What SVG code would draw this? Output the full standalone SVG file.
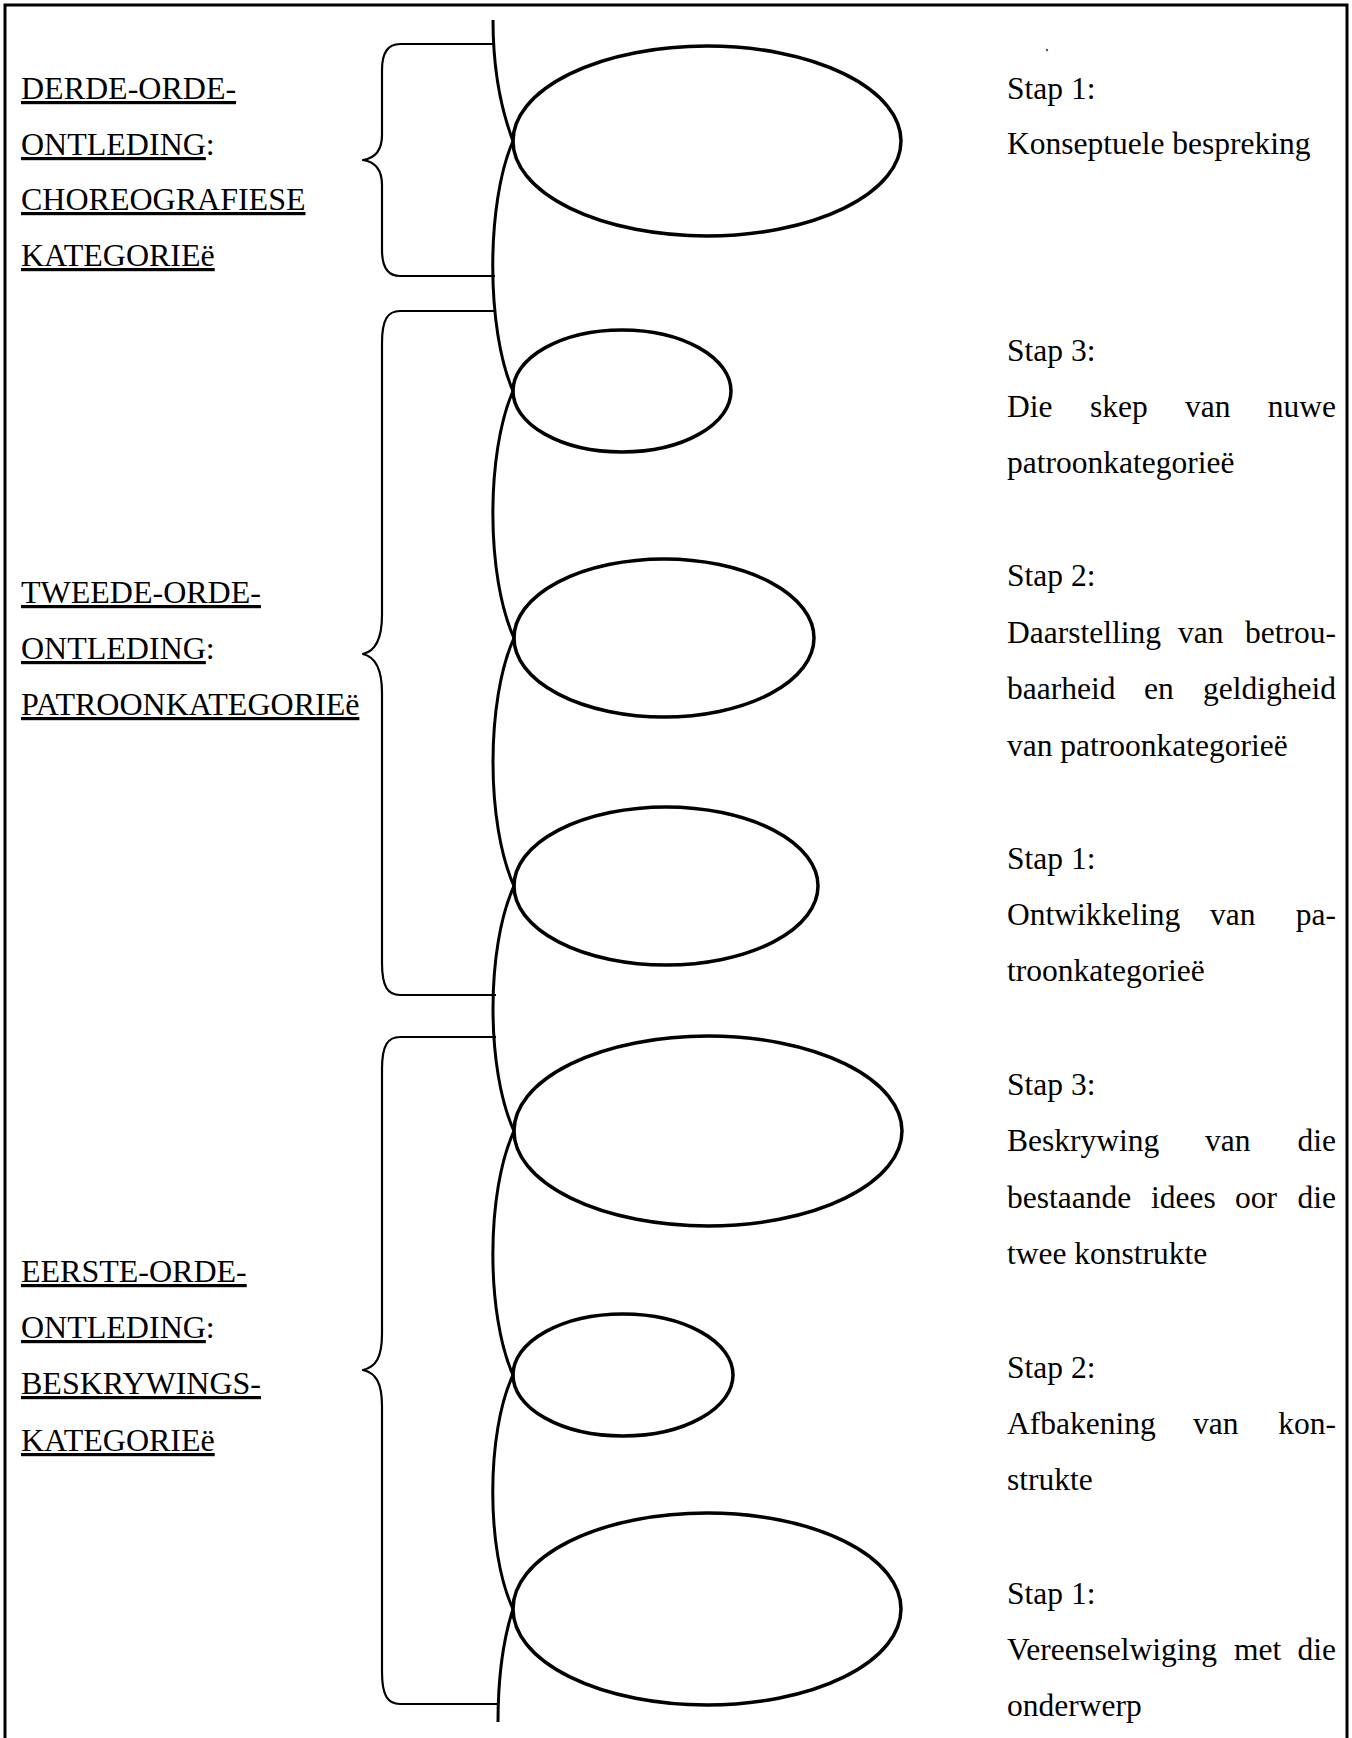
<svg xmlns="http://www.w3.org/2000/svg" width="1352" height="1738" viewBox="0 0 1352 1738">
<defs>
<style>
.frame{fill:none;stroke:#000;stroke-width:3}
.spine{fill:none;stroke:#000;stroke-width:3}
.brace{fill:none;stroke:#000;stroke-width:2.2;stroke-linejoin:round}
.node ellipse{fill:none;stroke:#000;stroke-width:3.5}
text{font-family:"Liberation Serif","Times New Roman",serif;font-size:31.5px;fill:#000}
.lbl{font-size:32px}
.u{text-decoration:underline}
</style>
</defs>
<rect width="1352" height="1738" fill="#fff"/>
<path class="frame" d="M5,1738 V5 H1347 V1738"/>
<circle cx="1047" cy="50" r="1.2" fill="#555"/>

<g id="connectors">
<path id="spine" class="spine" d="M493,20 C493,75 502,112 513,141 C486,203 486,329 513,391 C486,453 486,576 514,638 C486,700 486,824 514,886 C486,947 486,1070 514,1131 C486,1192 486,1314 513,1375 C486,1433 486,1551 513,1609 C503,1640 498,1680 498,1722"/>
<path id="brace-derde" class="brace" d="M495,44 H400 C388,44 382,52 382,70 V135 C382,150 376,158 363,160 C376,162 382,170 382,185 V250 C382,268 388,276 400,276 H495"/>
<path id="brace-tweede" class="brace" d="M496,311 H400 C388,311 382,319 382,343 V615 C382,638 376,651 363,654 C376,657 382,670 382,693 V963 C382,987 388,995 400,995 H496"/>
<path id="brace-eerste" class="brace" d="M496,1037 H400 C388,1037 382,1045 382,1069 V1334 C382,1357 376,1367 363,1370 C376,1373 382,1383 382,1406 V1672 C382,1696 388,1704 400,1704 H498"/>
</g>

<g id="node-derde-1" class="node"><ellipse cx="707" cy="141" rx="194" ry="95"/></g>
<g id="node-tweede-3" class="node"><ellipse cx="622" cy="391" rx="109" ry="61"/></g>
<g id="node-tweede-2" class="node"><ellipse cx="664" cy="638" rx="150" ry="79"/></g>
<g id="node-tweede-1" class="node"><ellipse cx="666" cy="886" rx="152" ry="79"/></g>
<g id="node-eerste-3" class="node"><ellipse cx="708" cy="1131" rx="194" ry="95"/></g>
<g id="node-eerste-2" class="node"><ellipse cx="623" cy="1375" rx="110" ry="61"/></g>
<g id="node-eerste-1" class="node"><ellipse cx="707" cy="1609" rx="194" ry="96"/></g>

<g id="label-derde">
<text class="lbl" x="21" y="99"><tspan class="u">DERDE-ORDE-</tspan></text>
<text class="lbl" x="21" y="155"><tspan class="u">ONTLEDING</tspan>:</text>
<text class="lbl" x="21" y="210"><tspan class="u">CHOREOGRAFIESE</tspan></text>
<text class="lbl" x="21" y="266"><tspan class="u">KATEGORIEë</tspan></text>
</g>
<g id="label-tweede">
<text class="lbl" x="21" y="603"><tspan class="u">TWEEDE-ORDE-</tspan></text>
<text class="lbl" x="21" y="659"><tspan class="u">ONTLEDING</tspan>:</text>
<text class="lbl" x="21" y="715"><tspan class="u">PATROONKATEGORIEë</tspan></text>
</g>
<g id="label-eerste">
<text class="lbl" x="21" y="1282"><tspan class="u">EERSTE-ORDE-</tspan></text>
<text class="lbl" x="21" y="1338"><tspan class="u">ONTLEDING</tspan>:</text>
<text class="lbl" x="21" y="1394"><tspan class="u">BESKRYWINGS-</tspan></text>
<text class="lbl" x="21" y="1451"><tspan class="u">KATEGORIEë</tspan></text>
</g>

<g id="text-derde-1">
<text x="1007" y="99">Stap 1:</text>
<text x="1007" y="154">Konseptuele bespreking</text>
</g>
<g id="text-tweede-3">
<text x="1007" y="361">Stap 3:</text>
<text y="417"><tspan x="1007">Die</tspan><tspan x="1090">skep</tspan><tspan x="1185">van</tspan><tspan x="1336" text-anchor="end">nuwe</tspan></text>
<text x="1007" y="473">patroonkategorieë</text>
</g>
<g id="text-tweede-2">
<text x="1007" y="586">Stap 2:</text>
<text y="643"><tspan x="1007">Daarstelling</tspan><tspan x="1178">van</tspan><tspan x="1336" text-anchor="end">betrou-</tspan></text>
<text y="699"><tspan x="1007">baarheid</tspan><tspan x="1144">en</tspan><tspan x="1336" text-anchor="end">geldigheid</tspan></text>
<text x="1007" y="756">van patroonkategorieë</text>
</g>
<g id="text-tweede-1">
<text x="1007" y="869">Stap 1:</text>
<text y="925"><tspan x="1007">Ontwikkeling</tspan><tspan x="1210">van</tspan><tspan x="1336" text-anchor="end">pa-</tspan></text>
<text x="1007" y="981">troonkategorieë</text>
</g>
<g id="text-eerste-3">
<text x="1007" y="1095">Stap 3:</text>
<text y="1151"><tspan x="1007">Beskrywing</tspan><tspan x="1205">van</tspan><tspan x="1336" text-anchor="end">die</tspan></text>
<text y="1208"><tspan x="1007">bestaande</tspan><tspan x="1151">idees</tspan><tspan x="1235">oor</tspan><tspan x="1336" text-anchor="end">die</tspan></text>
<text x="1007" y="1264">twee konstrukte</text>
</g>
<g id="text-eerste-2">
<text x="1007" y="1378">Stap 2:</text>
<text y="1434"><tspan x="1007">Afbakening</tspan><tspan x="1193">van</tspan><tspan x="1336" text-anchor="end">kon-</tspan></text>
<text x="1007" y="1490">strukte</text>
</g>
<g id="text-eerste-1">
<text x="1007" y="1604">Stap 1:</text>
<text y="1660"><tspan x="1007">Vereenselwiging</tspan><tspan x="1234">met</tspan><tspan x="1336" text-anchor="end">die</tspan></text>
<text x="1007" y="1716">onderwerp</text>
</g>
</svg>
